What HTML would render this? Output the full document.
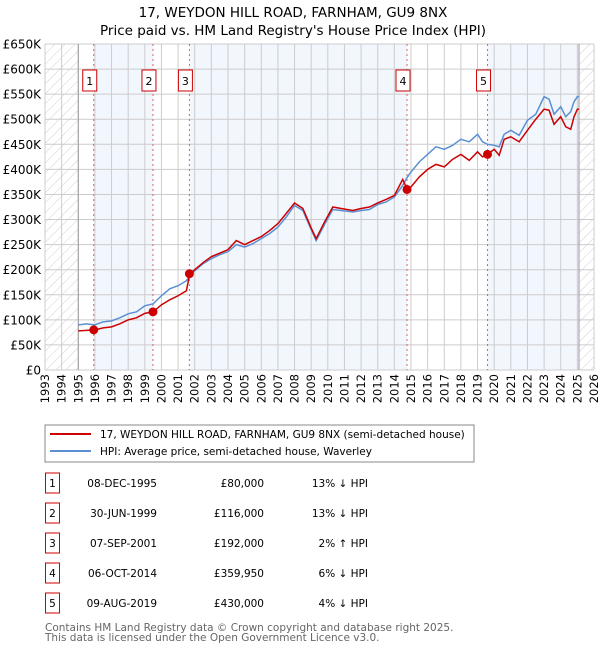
<!DOCTYPE html>
<html><head><meta charset="utf-8"><style>
body{margin:0;background:#fff;font-family:"DejaVu Sans","Liberation Sans",sans-serif;}
svg text{font-family:"DejaVu Sans","Liberation Sans",sans-serif;}
</style></head><body>
<svg id="c" width="600" height="650" xmlns="http://www.w3.org/2000/svg">
<defs><pattern id="hatch" patternUnits="userSpaceOnUse" width="7" height="7" patternTransform="rotate(45)"><line x1="0" y1="0" x2="0" y2="7" stroke="#d0d0d0" stroke-width="1"/></pattern></defs>
<text x="293" y="17" text-anchor="middle" font-size="13.5">17, WEYDON HILL ROAD, FARNHAM, GU9 8NX</text>
<text x="293" y="35" text-anchor="middle" font-size="13.5">Price paid vs. HM Land Registry's House Price Index (HPI)</text>
<g id="plot"></g>
<rect x="45" y="425" width="429" height="37" fill="#fff" stroke="#888"/>
<line x1="50" y1="434" x2="91" y2="434" stroke="#cc0000" stroke-width="2"/>
<text x="100" y="438" font-size="10.5">17, WEYDON HILL ROAD, FARNHAM, GU9 8NX (semi-detached house)</text>
<line x1="50" y1="451" x2="91" y2="451" stroke="#5b8fd4" stroke-width="2"/>
<text x="100" y="455" font-size="10.5">HPI: Average price, semi-detached house, Waverley</text>
<g id="table" font-size="10.5"></g>
<text x="45" y="631" font-size="10.5" fill="#666">Contains HM Land Registry data © Crown copyright and database right 2025.</text>
<text x="45" y="641" font-size="10.5" fill="#666">This data is licensed under the Open Government Licence v3.0.</text>
</svg>
<script>
const years=[1995.0,1995.5,1996.0,1996.5,1997.0,1997.5,1998.0,1998.5,1999.0,1999.5,2000.0,2000.5,2001.0,2001.5,2001.7,2002.0,2002.5,2003.0,2003.5,2004.0,2004.5,2005.0,2005.5,2006.0,2006.5,2007.0,2007.5,2008.0,2008.5,2009.0,2009.3,2009.8,2010.3,2010.8,2011.5,2012.0,2012.5,2013.0,2013.5,2014.0,2014.5,2014.77,2015.0,2015.5,2016.0,2016.5,2017.0,2017.5,2018.0,2018.5,2019.0,2019.3,2019.6,2020.0,2020.3,2020.6,2021.0,2021.5,2022.0,2022.5,2023.0,2023.3,2023.6,2024.0,2024.3,2024.6,2024.8,2025.0,2025.1];
const hpi=[90,92,90,96,98,104,112,116,128,132,148,162,168,178,188,198,212,222,230,236,250,245,252,262,272,285,305,328,318,280,258,290,320,318,315,318,320,330,335,345,368,384,395,415,430,445,440,448,460,455,470,455,450,448,445,470,478,468,498,510,545,540,510,525,505,515,535,545,545];
const price=[78,79,80,84,86,92,100,104,113,116,130,140,148,158,192,200,214,226,233,240,258,250,258,266,278,292,312,333,322,283,262,295,325,322,318,322,325,333,340,348,380,360,365,385,400,410,405,420,430,418,435,425,430,440,428,460,465,455,478,500,520,518,490,505,485,480,505,520,520];
const saleDates=[1995.93,1999.49,2001.68,2014.76,2019.6];
const salePrices=[80,116,192,359.95,430];
const saleLabels=["1","2","3","4","5"];
const saleDateText=["08-DEC-1995","30-JUN-1999","07-SEP-2001","06-OCT-2014","09-AUG-2019"];
const salePriceText=["£80,000","£116,000","£192,000","£359,950","£430,000"];
const saleHpiText=["13% ↓ HPI","13% ↓ HPI","2% ↑ HPI","6% ↓ HPI","4% ↓ HPI"];
const yTicks=[0,50,100,150,200,250,300,350,400,450,500,550,600,650];
const yTickLabels=["£0","£50K","£100K","£150K","£200K","£250K","£300K","£350K","£400K","£450K","£500K","£550K","£600K","£650K"];
const xStart=1993,xEnd=2026,dataStart=1995.0,dataEnd=2025.1;
const L=45,R=594,T=44,B=370;
const X=t=>L+(t-xStart)/(xEnd-xStart)*(R-L);
const Y=v=>B-v/650*(B-T);
const NS="http://www.w3.org/2000/svg";
const plot=document.getElementById('plot');
function mk(tag,attrs,parent){const e=document.createElementNS(NS,tag);for(const k in attrs)e.setAttribute(k,attrs[k]);(parent||plot).appendChild(e);return e;}
let e;
e=mk('rect',{x:L,y:T,width:R-L,height:B-T,fill:'#fff'});


const bands=[[saleDates[0],saleDates[1]],[saleDates[2],saleDates[3]],[saleDates[4],dataEnd]];
bands.forEach(b=>{e=mk('rect',{x:X(b[0]),y:T,width:X(b[1])-X(b[0]),height:B-T,fill:'#f2f6fd'});

});
e=mk('rect',{x:L,y:T,width:X(dataStart)-L,height:B-T,fill:'url(#hatch)'});


e=mk('rect',{x:X(dataEnd),y:T,width:R-X(dataEnd),height:B-T,fill:'url(#hatch)'});


for(let yr=xStart;yr<=xEnd;yr++){e=mk('line',{x1:X(yr),x2:X(yr),y1:T,y2:B,stroke:'#ccc','stroke-width':1});


e=mk('text',{x:0,y:0,'font-size':11.5,'text-anchor':'end',transform:`translate(${X(yr)+4},${B+4}) rotate(-90)`});
e.textContent=yr;

}
yTicks.forEach((v,i)=>{e=mk('line',{x1:L,x2:R,y1:Y(v),y2:Y(v),stroke:'#ccc','stroke-width':1});


e=mk('text',{x:41,y:Y(v)+4.5,'font-size':12,'text-anchor':'end'});
e.textContent=yTickLabels[i];

});
e=mk('line',{x1:X(dataStart),x2:X(dataStart),y1:T,y2:B,stroke:'#999'});


e=mk('line',{x1:X(dataEnd),x2:X(dataEnd),y1:T,y2:B,stroke:'#999'});


saleDates.forEach((d,i)=>{e=mk('line',{x1:X(d),x2:X(d),y1:T,y2:B,stroke:'#e06060','stroke-dasharray':'2,3','stroke-width':1});


e=mk('rect',{x:X(d)-11,y:70,width:14,height:21,fill:'#fff',stroke:'#cc0000'});


e=mk('text',{x:X(d)-4,y:85,'font-size':11,'text-anchor':'middle'});
e.textContent=saleLabels[i];

});
e=mk('polyline',{points:years.map((t,i)=>X(t)+','+Y(hpi[i])).join(' '),fill:'none',stroke:'#5b8fd4','stroke-width':1.5});


e=mk('polyline',{points:years.map((t,i)=>X(t)+','+Y(price[i])).join(' '),fill:'none',stroke:'#cc0000','stroke-width':1.5});


saleDates.forEach((d,i)=>{e=mk('circle',{cx:X(d),cy:Y(salePrices[i]),r:4.5,fill:'#cc0000'});

});
const tbl=document.getElementById('table');
saleLabels.forEach((lab,i)=>{const cy=483+i*30;
e=mk('rect',{x:45.5,y:cy-10,width:14,height:20,fill:'#fff',stroke:'#cc0000'},tbl);


e=mk('text',{x:52.5,y:cy+4,'text-anchor':'middle'},tbl);e.textContent=lab;


e=mk('text',{x:157,y:cy+4,'text-anchor':'end'},tbl);e.textContent=saleDateText[i];


e=mk('text',{x:264,y:cy+4,'text-anchor':'end'},tbl);e.textContent=salePriceText[i];


e=mk('text',{x:368,y:cy+4,'text-anchor':'end'},tbl);e.textContent=saleHpiText[i];

});
</script>
</body></html>
